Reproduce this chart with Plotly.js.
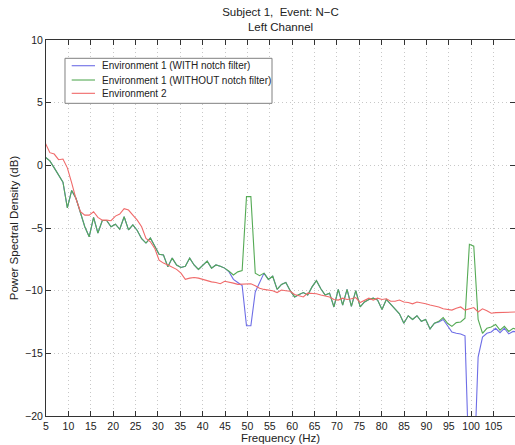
<!DOCTYPE html>
<html>
<head>
<meta charset="utf-8">
<script src="https://cdn.plot.ly/plotly-3.0.1.min.js"></script>
<style>html,body{margin:0;padding:0;background:#fff;overflow:hidden}#chart{width:515px;height:445px}</style>
</head>
<body>
<div id="chart"></div>
<script>
// Frequency bins (Hz), 250 Hz sampling / 256-point FFT
const freq = [4.88,5.86,6.84,7.81,8.79,9.77,10.74,11.72,12.70,13.67,14.65,15.63,16.60,17.58,18.55,19.53,20.51,21.48,22.46,23.44,24.41,25.39,26.37,27.34,28.32,29.30,30.27,31.25,32.23,33.20,34.18,35.16,36.13,37.11,38.09,39.06,40.04,41.02,41.99,42.97,43.95,44.92,45.90,46.88,47.85,48.83,49.80,50.78,51.76,52.73,53.71,54.69,55.66,56.64,57.62,58.59,59.57,60.55,61.52,62.50,63.48,64.45,65.43,66.41,67.38,68.36,69.34,70.31,71.29,72.27,73.24,74.22,75.20,76.17,77.15,78.13,79.10,80.08,81.05,82.03,83.01,83.98,84.96,85.94,86.91,87.89,88.87,89.84,90.82,91.80,92.77,93.75,94.73,95.70,96.68,97.66,98.63,99.61,100.59,101.56,102.54,103.52,104.49,105.47,106.45,107.42,108.40,109.38,110.35];

// Environment 1 (WITH notch filter)
const env1With = [0.65,0.35,-0.2,-0.75,-1.35,-3.4,-2.0,-2.65,-3.8,-4.9,-5.7,-4.15,-5.4,-4.4,-4.4,-4.9,-4.7,-5.1,-4.1,-5.15,-4.75,-5.2,-5.85,-6.2,-5.8,-6.5,-7.1,-7.15,-8.1,-7.4,-7.95,-8.15,-8.05,-7.4,-7.95,-8.3,-7.95,-7.65,-8.2,-7.95,-8.05,-8.2,-8.5,-9.1,-9.35,-9.6,-12.8,-12.8,-10.1,-9.3,-8.6,-9.1,-8.85,-9.9,-9.5,-9.35,-10.0,-10.5,-10.3,-10.15,-10.35,-9.7,-9.2,-9.85,-10.35,-10.2,-11.3,-9.9,-11.15,-9.9,-11.25,-10.0,-11.3,-10.9,-10.7,-10.6,-10.75,-11.5,-10.7,-11.1,-11.45,-11.85,-12.6,-12.0,-12.3,-12.0,-12.45,-12.3,-13.05,-12.6,-12.5,-12.3,-12.8,-13.3,-13.4,-13.45,-13.6,-25,-25,-15.3,-13.7,-13.4,-13.3,-13.0,-13.35,-13.0,-13.45,-13.25,-13.3];

// Environment 1 (WITHOUT notch filter)
const env1Without = [0.65,0.35,-0.2,-0.75,-1.35,-3.4,-2.0,-2.65,-3.8,-4.9,-5.7,-4.15,-5.4,-4.4,-4.4,-4.9,-4.7,-5.1,-4.1,-5.15,-4.75,-5.2,-5.85,-6.2,-5.8,-6.5,-7.1,-7.15,-8.1,-7.4,-7.95,-8.15,-8.05,-7.4,-7.95,-8.3,-7.95,-7.65,-8.2,-7.95,-8.05,-8.2,-8.45,-8.75,-8.5,-8.4,-2.5,-2.5,-8.6,-8.8,-8.6,-9.1,-8.85,-9.9,-9.5,-9.35,-10.0,-10.5,-10.3,-10.15,-10.35,-9.7,-9.2,-9.85,-10.35,-10.2,-11.3,-9.9,-11.15,-9.9,-11.25,-10.0,-11.3,-10.9,-10.7,-10.6,-10.75,-11.5,-10.7,-11.1,-11.45,-11.85,-12.6,-12.0,-12.3,-12.0,-12.45,-12.3,-13.05,-12.6,-12.45,-12.15,-12.6,-12.85,-12.55,-12.5,-12.2,-6.3,-6.45,-12.3,-13.4,-13.0,-12.9,-12.7,-13.15,-12.85,-13.25,-13.0,-13.1];

// Environment 2
const env2 = [1.75,1.01,0.9,0.45,0.5,-0.2,-1.4,-2.7,-3.7,-3.97,-3.97,-3.7,-4.15,-4.37,-4.37,-4.42,-4.05,-3.89,-3.46,-3.57,-3.97,-4.37,-4.9,-5.83,-6.1,-6.63,-7.56,-7.8,-7.95,-8.1,-8.3,-8.6,-9.1,-9.0,-8.95,-9.0,-9.1,-9.25,-9.3,-9.35,-9.45,-9.25,-9.3,-9.4,-9.5,-9.5,-9.45,-9.45,-9.6,-9.8,-9.9,-9.95,-10.0,-10.15,-9.95,-10.0,-10.05,-10.3,-10.4,-10.5,-10.2,-10.2,-10.25,-10.35,-10.45,-10.5,-10.7,-10.75,-10.6,-10.7,-10.65,-10.55,-10.95,-10.8,-10.6,-10.75,-10.6,-10.7,-10.65,-10.85,-10.85,-10.75,-10.9,-10.95,-11.05,-10.9,-10.95,-11.05,-11.15,-11.2,-11.3,-11.45,-11.5,-11.55,-11.4,-11.3,-11.55,-11.45,-11.35,-11.7,-11.45,-11.6,-11.8,-11.75,-11.75,-11.7,-11.7,-11.75,-11.7];

const seriesNames = ['Environment 1 (WITH notch filter)','Environment 1 (WITHOUT notch filter)','Environment 2'];
const seriesColors = ['#6e6ee6', '#55aa55', '#f06a6a'];
const xTicks = [5,10,15,20,25,30,35,40,45,50,55,60,65,70,75,80,85,90,95,100,105];
const yTicks = [-20,-15,-10,-5,0,5,10];

const FONT = 'Liberation Sans, Arial, Helvetica, sans-serif';
const seriesData = [env1With, env1Without, env2];
const traces = seriesData.map((ys, i) => ({
  x: freq, y: ys, name: seriesNames[i], mode: 'lines',
  line: {color: seriesColors[i], width: 1.1}, showlegend: false
}));

const axisCommon = {
  ticks: 'inside', ticklen: 5, tickwidth: 1, tickcolor: '#333',
  showline: true, linecolor: '#333', linewidth: 1, mirror: 'ticks',
  showgrid: true, gridcolor: '#c8c8c8', griddash: '1px,3px', gridwidth: 1,
  zeroline: false,
  tickfont: {family: FONT, size: 10.5, color: '#222'}
};

// Legend box drawn in paper coordinates (MATLAB-style legend)
const legBox = {x0: 0.0405, x1: 0.4819, y0: 0.8316, y1: 0.9513};
const legRows = [0.9316, 0.8936, 0.8582];
const legLineX = [0.0548, 0.1045];
const legTextX = 0.1151;

const shapes = [{
  type: 'rect', xref: 'paper', yref: 'paper', layer: 'above',
  x0: legBox.x0, x1: legBox.x1, y0: legBox.y0, y1: legBox.y1,
  fillcolor: '#fff', line: {color: '#808080', width: 1}
}].concat(seriesNames.map((n, i) => ({
  type: 'line', xref: 'paper', yref: 'paper', layer: 'above',
  x0: legLineX[0], x1: legLineX[1], y0: legRows[i], y1: legRows[i],
  line: {color: seriesColors[i], width: 1.1}
})));

const annotations = seriesNames.map((n, i) => ({
  text: n, xref: 'paper', yref: 'paper', x: legTextX, y: legRows[i],
  xanchor: 'left', yanchor: 'middle', showarrow: false,
  font: {family: FONT, size: 10, color: '#222'}
}));

const layout = {
  width: 515, height: 445,
  margin: {l: 46, r: 0, t: 40, b: 29, pad: 0},
  paper_bgcolor: '#fff', plot_bgcolor: '#fff',
  font: {family: FONT, color: '#222'},
  title: {
    text: 'Subject 1,\u00a0 Event: N\u2212C<br>Left Channel',
    font: {family: FONT, size: 11.5, color: '#222'},
    x: 0.5, xref: 'paper', xanchor: 'center',
    y: 0.963, yref: 'container', yanchor: 'top'
  },
  xaxis: Object.assign({}, axisCommon, {
    range: [5, 109.8], tickmode: 'array', tickvals: xTicks, ticktext: xTicks.map(String),
    title: {text: 'Frequency (Hz)', font: {family: FONT, size: 11.5, color: '#222'}, standoff: 0}
  }),
  yaxis: Object.assign({}, axisCommon, {
    range: [-20, 10], tickmode: 'array', tickvals: yTicks,
    title: {text: 'Power Spectral Density (dB)', font: {family: FONT, size: 11.5, color: '#222'}, standoff: 4}
  }),
  showlegend: false,
  shapes: shapes,
  annotations: annotations
};

Plotly.newPlot('chart', traces, layout, {staticPlot: true, displayModeBar: false});
</script>
</body>
</html>
